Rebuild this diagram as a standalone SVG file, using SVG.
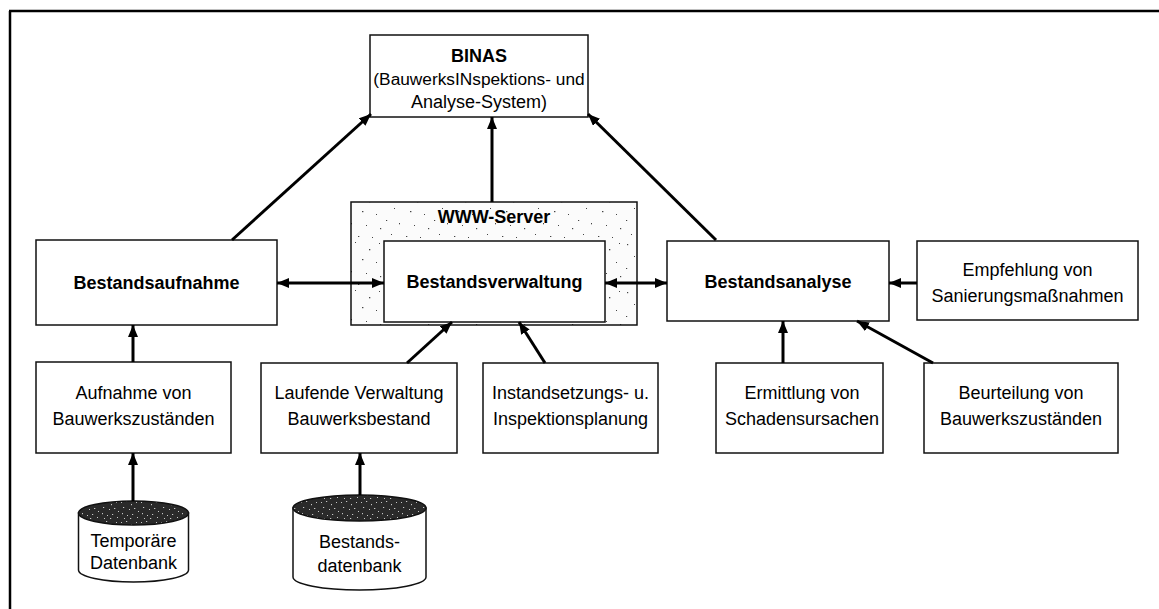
<svg xmlns="http://www.w3.org/2000/svg" width="1159" height="609" viewBox="0 0 1159 609">
  <style>
    text { font-family: "Liberation Sans", Arial, sans-serif; font-size: 18px; fill: #000; text-anchor: middle; }
    .b { font-weight: bold; }
    .box { fill: #fff; stroke: #111; stroke-width: 1.5; }
    .conn { fill: none; stroke: #000; stroke-width: 3; }
    .frame { fill: none; stroke: #000; stroke-width: 2.5; }
  </style>
  <defs>
    <marker id="head" viewBox="0 0 12 10" refX="12" refY="5" markerWidth="12" markerHeight="10" markerUnits="userSpaceOnUse" orient="auto-start-reverse">
      <path d="M0,0 L12,5 L0,10 z" fill="#000"/>
    </marker>
    <!-- sparse stipple for the server frame -->
    <pattern id="stipple" width="48" height="48" patternUnits="userSpaceOnUse">
      <rect width="48" height="48" fill="#fbfbfb"/>
      <g fill="#444">
        <rect x="3" y="4" width="1.2" height="1.2"/><rect x="19" y="2" width="1" height="1"/>
        <rect x="33" y="9" width="1.3" height="1.3"/><rect x="43" y="3" width="1" height="1"/>
        <rect x="10" y="16" width="1" height="1"/><rect x="26" y="19" width="1.4" height="1.2"/>
        <rect x="40" y="22" width="1" height="1"/><rect x="2" y="28" width="1.2" height="1"/>
        <rect x="15" y="31" width="1" height="1.3"/><rect x="30" y="33" width="1" height="1"/>
        <rect x="44" y="36" width="1.2" height="1.2"/><rect x="7" y="42" width="1" height="1"/>
        <rect x="22" y="44" width="1.3" height="1"/><rect x="36" y="45" width="1" height="1"/>
      </g>
    </pattern>
    <!-- dark speckle for database tops -->
    <pattern id="speckle" width="20" height="20" patternUnits="userSpaceOnUse">
      <rect width="20" height="20" fill="#2a2a2a"/>
      <g fill="#c8c8c8">
        <rect x="1" y="2" width="1" height="1"/><rect x="6" y="1" width="1.2" height="1"/>
        <rect x="11" y="4" width="1" height="1.2"/><rect x="16" y="2" width="1" height="1"/>
        <rect x="3" y="7" width="1.2" height="1"/><rect x="9" y="9" width="1" height="1"/>
        <rect x="14" y="8" width="1.3" height="1"/><rect x="18" y="11" width="1" height="1"/>
        <rect x="2" y="13" width="1" height="1.2"/><rect x="7" y="15" width="1" height="1"/>
        <rect x="12" y="14" width="1.2" height="1"/><rect x="17" y="17" width="1" height="1"/>
        <rect x="4" y="18" width="1" height="1"/><rect x="10" y="18" width="1.2" height="1"/>
      </g>
    </pattern>
  </defs>

  <rect width="1159" height="609" fill="#fff"/>

  <!-- outer frame -->
  <path class="frame" d="M9,11 H1159 M10,11 V609"/>

  <!-- server frame around the inventory management -->
  <g id="www-server">
    <rect x="351" y="202" width="286" height="123" fill="url(#stipple)" stroke="#111" stroke-width="1.5"/>
    <text class="b" x="494" y="223">WWW-Server</text>
  </g>

  <g id="binas">
    <rect class="box" x="370" y="35" width="218" height="82"/>
    <text class="b" x="479" y="62">BINAS</text>
    <text x="479" y="85" style="font-size:17.3px">(BauwerksINspektions- und</text>
    <text x="479" y="108">Analyse-System)</text>
  </g>

  <g id="bestandsaufnahme">
    <rect class="box" x="36" y="240" width="241" height="85"/>
    <text class="b" x="156.5" y="289">Bestandsaufnahme</text>
  </g>

  <g id="bestandsverwaltung">
    <rect class="box" x="384" y="241" width="221" height="81"/>
    <text class="b" x="494.5" y="288">Bestandsverwaltung</text>
  </g>

  <g id="bestandsanalyse">
    <rect class="box" x="667" y="241" width="222" height="80"/>
    <text class="b" x="778" y="288">Bestandsanalyse</text>
  </g>

  <g id="empfehlung">
    <rect class="box" x="917" y="241" width="221" height="79"/>
    <text x="1027.5" y="276">Empfehlung von</text>
    <text x="1027.5" y="302">Sanierungsmaßnahmen</text>
  </g>

  <g id="aufnahme">
    <rect class="box" x="36" y="362" width="195" height="91"/>
    <text x="133.5" y="399">Aufnahme von</text>
    <text x="133.5" y="425">Bauwerkszuständen</text>
  </g>

  <g id="laufende-verwaltung">
    <rect class="box" x="261" y="363" width="196" height="90"/>
    <text x="359" y="399">Laufende Verwaltung</text>
    <text x="359" y="425">Bauwerksbestand</text>
  </g>

  <g id="instandsetzung">
    <rect class="box" x="483" y="363" width="175" height="90"/>
    <text x="570.5" y="399">Instandsetzungs- u.</text>
    <text x="570.5" y="425">Inspektionsplanung</text>
  </g>

  <g id="ermittlung">
    <rect class="box" x="716" y="363" width="167" height="90"/>
    <text x="802" y="399">Ermittlung von</text>
    <text x="802" y="425">Schadensursachen</text>
  </g>

  <g id="beurteilung">
    <rect class="box" x="924" y="363" width="194" height="90"/>
    <text x="1021" y="399">Beurteilung von</text>
    <text x="1021" y="425">Bauwerkszuständen</text>
  </g>

  <g id="temporaere-datenbank">
    <path class="box" d="M78.5,513 V570 A55,12 0 0 0 188.5,570 V513 Z"/>
    <ellipse cx="133.5" cy="513" rx="55" ry="12" fill="url(#speckle)" stroke="#111" stroke-width="1.5"/>
    <text x="133.5" y="547">Temporäre</text>
    <text x="133.5" y="569">Datenbank</text>
  </g>

  <g id="bestandsdatenbank">
    <path class="box" d="M293,508 V577 A66.5,13 0 0 0 426,577 V508 Z"/>
    <ellipse cx="359.5" cy="508" rx="66.5" ry="13" fill="url(#speckle)" stroke="#111" stroke-width="1.5"/>
    <text x="359.5" y="548">Bestands-</text>
    <text x="359.5" y="572">datenbank</text>
  </g>

  <g id="connectors">
    <path class="conn" d="M232,240 L371,114" marker-end="url(#head)"/>
    <path class="conn" d="M492,202 V117" marker-end="url(#head)"/>
    <path class="conn" d="M716,240 L588,114" marker-end="url(#head)"/>
    <path class="conn" d="M277,283 H384" marker-start="url(#head)" marker-end="url(#head)"/>
    <path class="conn" d="M605,283 H667" marker-start="url(#head)" marker-end="url(#head)"/>
    <path class="conn" d="M917,283 H889" marker-end="url(#head)"/>
    <path class="conn" d="M133,362 V325" marker-end="url(#head)"/>
    <path class="conn" d="M407,363 L452,322" marker-end="url(#head)"/>
    <path class="conn" d="M545,363 L519,322" marker-end="url(#head)"/>
    <path class="conn" d="M783,363 V321" marker-end="url(#head)"/>
    <path class="conn" d="M933,363 L857,321" marker-end="url(#head)"/>
    <path class="conn" d="M133,501 V453" marker-end="url(#head)"/>
    <path class="conn" d="M360,495 V453" marker-end="url(#head)"/>
  </g>
</svg>
